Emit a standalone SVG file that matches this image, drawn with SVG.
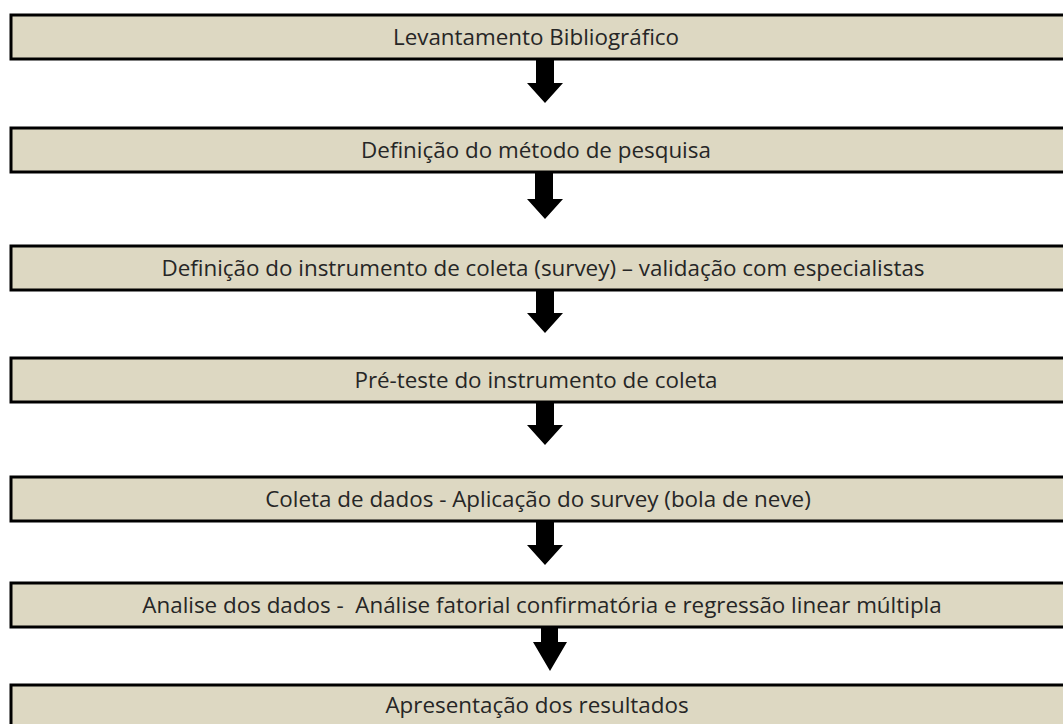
<svg xmlns="http://www.w3.org/2000/svg" width="1063" height="724" viewBox="0 0 1063 724">
<style>
.box{fill:#DDD8C2;stroke:#000;stroke-width:3}
.lbl{font-family:"Open Sans","Noto Sans",sans-serif;font-size:22.4px;fill:#262626;text-anchor:middle}
.arr{fill:#000}
</style>
<rect width="1063" height="724" fill="#fff"/>
<g id="node1"><rect class="box" x="11" y="15" width="1060" height="44"/><text class="lbl" x="536" y="45">Levantamento Bibliográfico</text></g>
<g id="node2"><rect class="box" x="11" y="128" width="1060" height="44"/><text class="lbl" x="536" y="158">Definição do método de pesquisa</text></g>
<g id="node3"><rect class="box" x="11" y="246" width="1060" height="44"/><text class="lbl" x="543" y="276">Definição do instrumento de coleta (survey) – validação com especialistas</text></g>
<g id="node4"><rect class="box" x="11" y="358" width="1060" height="44"/><text class="lbl" x="536" y="388">Pré-teste do instrumento de coleta</text></g>
<g id="node5"><rect class="box" x="11" y="477" width="1060" height="44"/><text class="lbl" x="538" y="507">Coleta de dados - Aplicação do survey (bola de neve)</text></g>
<g id="node6"><rect class="box" x="11" y="583" width="1060" height="44"/><text class="lbl" x="542" y="613" xml:space="preserve">Analise dos dados -  Análise fatorial confirmatória e regressão linear múltipla</text></g>
<g id="node7"><rect class="box" x="11" y="685" width="1060" height="44"/><text class="lbl" x="537" y="713">Apresentação dos resultados</text></g>
<g id="connectors">
<polygon class="arr" points="536,60 554,60 554,83 563,83 545,103 527,83 536,83"/>
<polygon class="arr" points="535,173 553,173 553,199 563,199 545,219 527,199 535,199"/>
<polygon class="arr" points="536,291 554,291 554,313 563,313 545,333 527,313 536,313"/>
<polygon class="arr" points="536,403 554,403 554,425 563,425 545,445 527,425 536,425"/>
<polygon class="arr" points="536,522 554,522 554,545 563,545 545,565 527,545 536,545"/>
<polygon class="arr" points="541,628 558,628 558,642 567,642 550,671 533,642 541,642"/>
</g>
</svg>
